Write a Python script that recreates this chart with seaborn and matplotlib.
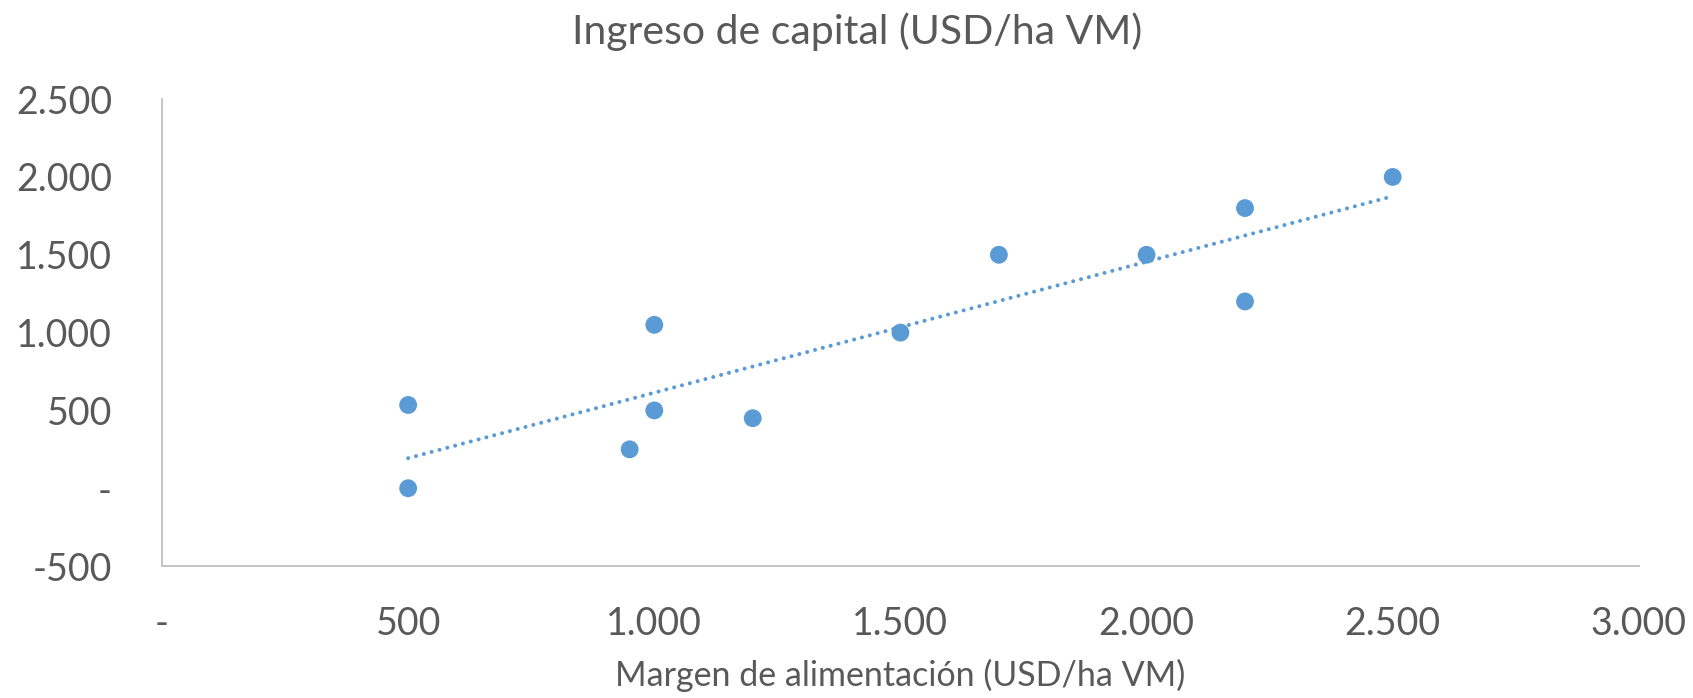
import numpy as np
import pandas as pd
import matplotlib
matplotlib.use("Agg")
import matplotlib.pyplot as plt
from matplotlib.ticker import FuncFormatter, MultipleLocator
import seaborn as sns

# Margen de alimentacion vs ingreso de capital (USD/ha VM)
margen = [500, 500, 950, 1000, 1000, 1200, 1500, 1700, 2000, 2200, 2200, 2500]
ingreso = [535, 0, 250, 1050, 500, 450, 1000, 1500, 1500, 1800, 1200, 2000]

df = pd.DataFrame({"margen": margen, "ingreso": ingreso})

sns.set_style("white")
plt.rcParams['font.family'] = ['Lato', 'DejaVu Sans']

blue = "#5b9bd5"
grey_txt = "#595959"
grey_line = "#bfbfbf"

fig = plt.figure(figsize=(16.93, 6.98), dpi=100)
ax = fig.add_axes([0.0957, 0.189, 0.8723, 0.669])

sns.scatterplot(data=df, x="margen", y="ingreso", ax=ax, color=blue,
                s=165, edgecolor="none", zorder=3)

# linear trend line (dotted), like Excel
k, b = np.polyfit(df["margen"], df["ingreso"], 1)
xs = np.array([df["margen"].min(), df["margen"].max()])
ax.plot(xs, k * xs + b, color=blue, lw=2.9, linestyle=(0, (0.01, 2.0)),
        dash_capstyle="round", zorder=2)

ax.set_xlim(0, 3000)
ax.set_ylim(-500, 2500)
ax.xaxis.set_major_locator(MultipleLocator(500))
ax.yaxis.set_major_locator(MultipleLocator(500))

def excel_fmt(v, pos):
    if abs(v) < 1e-9:
        return "-"
    return f"{v:,.0f}".replace(",", ".")

ax.xaxis.set_major_formatter(FuncFormatter(excel_fmt))
ax.yaxis.set_major_formatter(FuncFormatter(excel_fmt))

for side in ["top", "right"]:
    ax.spines[side].set_visible(False)
for side in ["left", "bottom"]:
    ax.spines[side].set_color(grey_line)
    ax.spines[side].set_linewidth(1.3)

ax.tick_params(axis="x", length=0, pad=29, labelsize=27, labelcolor=grey_txt)
ax.tick_params(axis="y", length=0, pad=36, labelsize=27, labelcolor=grey_txt)

ax.set_xlabel("Margen de alimentación (USD/ha VM)", fontsize=24.5, color=grey_txt, labelpad=12)
ax.set_ylabel("")
fig.suptitle("Ingreso de capital (USD/ha VM)", fontsize=29.5, color=grey_txt, x=0.5065, y=0.982)

fig.savefig("out.png", dpi=100)
